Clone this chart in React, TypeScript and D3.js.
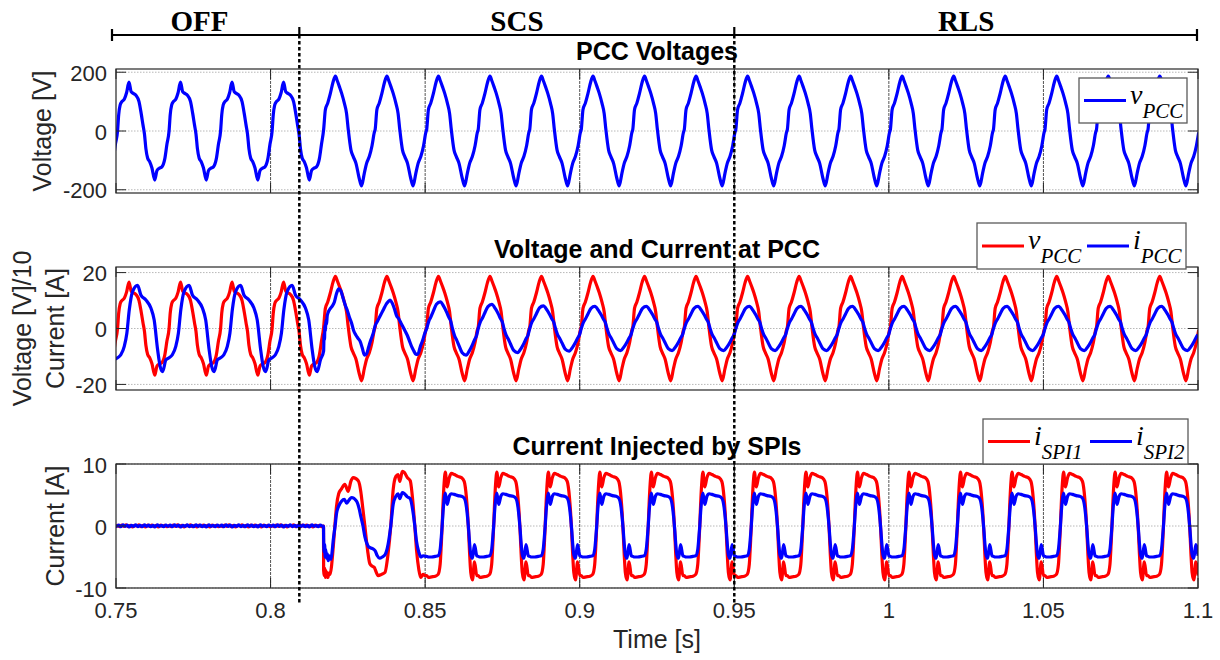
import React, { useEffect, useRef } from "react";
import * as d3 from "d3";

type Pt = [number, number];

// time axis
const xTicks = [0.75, 0.8, 0.85, 0.9, 0.95, 1.0, 1.05, 1.1];
const xTickLabels = ["0.75", "0.8", "0.85", "0.9", "0.95", "1", "1.05", "1.1"];

// grid frequency and first rising zero crossing of v_PCC
const F0 = 60;
const T0 = 0.7505;
const FIRST_CYCLE = -1;

// operating modes shown in the header
const modeNames = ["OFF", "SCS", "RLS"];
const modeLabelT = [0.777, 0.8797, 1.025];
const modeSwitchT = [0.8093, 0.95];

// one cycle of each waveform: [phase deg from v zero crossing, value]
const vOffCycle: Pt[] = [[0, 0], [8, 55], [18, 88], [30, 100], [47, 108], [63, 130], [80, 166], [95, 134], [110, 128], [128, 122], [150, 100], [165, 60], [178, 20], [188, -10], [198, -60], [210, -92], [225, -105], [240, -125], [260, -167], [275, -135], [292, -127], [310, -122], [330, -95], [345, -45]];
const vOnCycle: Pt[] = [[0, 5], [12, 72], [28, 94], [47, 128], [65, 165], [82, 187], [96, 170], [110, 151], [126, 128], [145, 94], [160, 60], [172, 5], [191, -65], [207, -87], [226, -110], [248, -160], [265, -187], [284, -144], [300, -110], [319, -87], [338, -50], [354, -5]];

const iOffCycle: Pt[] = [[0, -10.5], [23, -9.4], [47, -6.4], [65, -1.7], [82, 6.7], [105, 13.2], [140, 15.4], [163, 12], [198, 10.2], [233, 7.3], [256, 3], [280, -7.6], [298, -13.6], [315, -15.4], [338, -11.2]];
const iC4Cycle: Pt[] = [[0, -8], [3, -2], [6, -4], [9, 1], [12, -1], [16, 3], [20, 1.5], [25, 4.5], [30, 5.5], [45, 7], [60, 8], [75, 9.5], [90, 12.5], [105, 14.2], [120, 13.5], [135, 11], [150, 8.5], [165, 6.5], [180, 4], [195, 2], [210, -0.8], [225, -2.3], [240, -3.5], [255, -4.6], [270, -7], [285, -9.5], [300, -9], [315, -6.5], [330, -4], [345, -2]];
const iC5Cycle: Pt[] = [[0, 1], [15, 2.5], [30, 4], [45, 5.5], [60, 7], [75, 8.5], [90, 9.5], [105, 10.2], [120, 9], [135, 7], [150, 4.5], [165, 3.5], [180, 2], [195, 0.5], [210, -1], [225, -2.5], [240, -4.5], [255, -6.5], [270, -8], [285, -9.3], [300, -9], [315, -6.5], [330, -4.5], [345, -2]];
const iOnCycle: Pt[] = [[0, 0], [15, 2.2], [28, 3.3], [45, 5], [68, 7.2], [95, 7.9], [120, 6.5], [140, 4.8], [155, 3.3], [168, 2.2], [180, 0], [195, -2.2], [208, -3.3], [225, -5], [248, -7.2], [275, -7.9], [300, -6.5], [320, -4.8], [335, -3.3], [348, -2.2]];
const iOnPeaks = [9.5, 8.6, 8.1, 7.9, 7.9, 7.9, 7.9, 7.9, 7.9, 7.9, 7.9, 7.9, 7.9, 7.9, 7.9];

const spi1Zero: Pt[] = [[0, 0.1], [15, -0.1], [30, 0.15], [45, -0.05], [60, 0.2], [75, -0.1], [90, 0.1], [105, -0.15], [120, 0.1], [135, 0], [150, 0.2], [165, -0.1], [180, 0.1], [195, -0.15], [210, 0.15], [225, -0.05], [240, 0.15], [255, -0.1], [270, 0.1], [285, -0.15], [300, 0.15], [315, -0.05], [330, 0.1], [345, -0.1], [359, 0]];
const spi2Zero: Pt[] = [[0, 0], [8, 0.15], [22, -0.1], [38, 0.2], [52, -0.05], [68, 0.15], [82, -0.15], [98, 0.1], [112, -0.05], [128, 0.2], [142, -0.1], [158, 0.1], [172, -0.1], [188, 0.2], [202, -0.05], [218, 0.15], [232, -0.1], [248, 0.1], [262, -0.15], [278, 0.2], [292, -0.05], [308, 0.1], [322, -0.1], [338, 0.15], [352, -0.05], [359, 0]];
const spi1C4: Pt[] = [[0, -7.2], [4, -8], [8, -6.8], [12, -8.3], [16, -7.2], [20, -8.2], [25, -7.5], [30, -8.3], [37, -7.6], [45, -7.8], [55, -6.5], [67, -3.4], [80, 0.5], [90, 3.2], [105, 5.2], [125, 6.0], [148, 6.7], [172, 5.6], [190, 7.2], [207, 7.8], [242, 7.3], [260, 5.5], [272, 3.2], [288, 0], [307, -3.9], [323, -6.1], [340, -6.5], [355, -6.7]];
const spi1C5: Pt[] = [[0, -7.0], [21, -8.0], [44, -7.8], [68, -7.5], [90, -4.5], [109, 0], [126, 5.9], [145, 8.0], [160, 8.3], [172, 7.2], [190, 8.8], [205, 8.6], [225, 7.8], [245, 7.3], [266, 3.2], [277, 0], [289, -3.9], [305, -7.0], [318, -8.3], [335, -7.8], [350, -8.0]];
const spi1On: Pt[] = [[0, -8.0], [12, -8.3], [35, -8.2], [60, -8.1], [80, -7.8], [94, -6.2], [102, -3.0], [108, 0], [114, 3.5], [122, 7.0], [130, 8.7], [143, 6.3], [158, 7.8], [173, 8.5], [193, 8.3], [218, 8.0], [243, 7.8], [262, 7.2], [278, 4.5], [286, 2.0], [293, -1.0], [300, -4.5], [308, -7.5], [320, -8.7], [334, -5.8], [350, -8.0]];
const spi2C4: Pt[] = [[0, -2], [3, -4.2], [7, -3], [11, -5], [15, -3.8], [20, -5.2], [26, -4.5], [32, -5.6], [40, -4.8], [51, -5.4], [60, -4], [67, -2.3], [80, 0], [90, 2], [105, 3.2], [125, 4.0], [145, 4.3], [160, 3.7], [178, 4.2], [195, 4.6], [230, 4.0], [248, 2.8], [260, 1.5], [275, 0], [288, -1.7], [302, -2.8], [316, -3.4], [346, -3.7]];
const spi2C5: Pt[] = [[0, -4.0], [15, -4.8], [30, -5.2], [50, -5.0], [70, -4.6], [90, -3.0], [109, 0], [126, 3.5], [145, 4.8], [160, 5.2], [172, 4.4], [190, 5.4], [205, 5.2], [225, 4.7], [245, 4.4], [266, 2.0], [277, 0], [289, -2.5], [305, -4.2], [318, -5.0], [335, -4.8], [350, -4.9]];
const spi2On: Pt[] = [[0, -4.9], [12, -5.0], [35, -5.0], [60, -4.9], [80, -4.8], [94, -3.8], [102, -1.8], [108, 0], [114, 2.2], [122, 4.3], [130, 5.3], [143, 3.5], [158, 4.8], [173, 5.2], [193, 5.1], [218, 4.9], [243, 4.8], [262, 4.5], [278, 3.0], [286, 1.3], [293, -0.6], [300, -2.8], [308, -4.6], [320, -5.2], [334, -3.0], [350, -4.8]];

// which cycle shape is used for cycles -1 .. 20
const vPlan = ["off", "off", "off", "off", "off", "on", "on", "on", "on", "on", "on", "on", "on", "on", "on", "on", "on", "on", "on", "on", "on", "on"];
const iPlan = ["off", "off", "off", "off", "off", "c4", "c5", "on", "on", "on", "on", "on", "on", "on", "on", "on", "on", "on", "on", "on", "on", "on"];
const spiPlan = ["zero", "zero", "zero", "zero", "zero", "c4", "c5", "on", "on", "on", "on", "on", "on", "on", "on", "on", "on", "on", "on", "on", "on", "on"];

const RED = "#ff0000";
const BLUE = "#0000ff";
const AX = "#262626";
const SANS = "'Liberation Sans', Arial, Helvetica, sans-serif";
const SERIF = "'Liberation Serif', 'Times New Roman', Times, serif";

function buildSeries(plan: string[], shapes: Record<string, Pt[]>, onPeaks?: number[], nominal = 1) {
    const pts: { t: number; v: number }[] = [];
    let onIdx = 0;
    plan.forEach((key, i) => {
        const k = i + FIRST_CYCLE;
        let s = 1;
        if (key === "on" && onPeaks) {
            s = onPeaks[onIdx] / nominal;
            onIdx++;
        }
        shapes[key].forEach(([deg, val]) => {
            pts.push({ t: T0 + (k + deg / 360) / F0, v: val * s });
        });
    });
    return pts;
}

export default function App() {
    const svgRef = useRef<SVGSVGElement>(null);

    useEffect(() => {
        const svg = d3.select(svgRef.current);
        svg.selectAll("*").remove();

        const x = d3.scaleLinear().domain([0.75, 1.1]).range([116, 1198]);
        const X0 = x(0.75), X1 = x(1.1);

        const vPcc = buildSeries(vPlan, { off: vOffCycle, on: vOnCycle });
        const iPcc = buildSeries(iPlan, { off: iOffCycle, c4: iC4Cycle, c5: iC5Cycle, on: iOnCycle }, iOnPeaks, 7.9);
        const spi1 = buildSeries(spiPlan, { zero: spi1Zero, c4: spi1C4, c5: spi1C5, on: spi1On });
        const spi2 = buildSeries(spiPlan, { zero: spi2Zero, c4: spi2C4, c5: spi2C5, on: spi2On });

        const panels = [
            {
                id: "p1", y0: 69, y1: 193, dom: 211, yTicks: [-200, 0, 200],
                title: "PCC Voltages", titleY: 60,
                yLabels: [{ text: "Voltage [V]", bx: 51 }],
                series: [{ data: vPcc, k: 1, color: BLUE }],
                legend: { x: 1079, y: 78, w: 108, h: 45, items: [{ color: BLUE, main: "v", sub: "PCC", x: 1084 }] },
            },
            {
                id: "p2", y0: 267, y1: 390, dom: 22, yTicks: [-20, 0, 20],
                title: "Voltage and Current at PCC", titleY: 258,
                yLabels: [{ text: "Voltage [V]/10", bx: 31 }, { text: "Current [A]", bx: 64 }],
                series: [{ data: vPcc, k: 0.1, color: RED }, { data: iPcc, k: 1, color: BLUE }],
                legend: { x: 977, y: 223, w: 209, h: 46, items: [{ color: RED, main: "v", sub: "PCC", x: 982 }, { color: BLUE, main: "i", sub: "PCC", x: 1087 }] },
            },
            {
                id: "p3", y0: 464, y1: 588, dom: 10, yTicks: [-10, 0, 10],
                title: "Current Injected by SPIs", titleY: 455,
                yLabels: [{ text: "Current [A]", bx: 64 }],
                series: [{ data: spi1, k: 1, color: RED }, { data: spi2, k: 1, color: BLUE }],
                legend: { x: 983, y: 419, w: 205, h: 45, items: [{ color: RED, main: "i", sub: "SPI1", x: 988 }, { color: BLUE, main: "i", sub: "SPI2", x: 1090 }] },
            },
        ];

        const defs = svg.append("defs");

        panels.forEach((p, pi) => {
            const y = d3.scaleLinear().domain([-p.dom, p.dom]).range([p.y1, p.y0]);
            const g = svg.append("g");

            defs.append("clipPath").attr("id", `clip-${p.id}`)
                .append("rect").attr("x", X0).attr("y", p.y0).attr("width", X1 - X0).attr("height", p.y1 - p.y0);

            // grid
            g.selectAll(".hgrid").data(p.yTicks).enter().append("line")
                .attr("x1", X0).attr("x2", X1)
                .attr("y1", d => y(d)).attr("y2", d => y(d))
                .attr("stroke", "#b8b8b8").attr("stroke-width", 1).attr("stroke-dasharray", "1.5 1.5");
            g.selectAll(".vgrid").data(xTicks.slice(1, -1)).enter().append("line")
                .attr("x1", d => x(d)).attr("x2", d => x(d))
                .attr("y1", p.y0).attr("y2", p.y1)
                .attr("stroke", "#555").attr("stroke-width", 1).attr("stroke-dasharray", "3 1");

            // traces
            const plot = g.append("g").attr("clip-path", `url(#clip-${p.id})`);
            p.series.forEach(s => {
                const line = d3.line<{ t: number; v: number }>()
                    .x(d => x(d.t)).y(d => y(d.v * s.k))
                    .curve(d3.curveMonotoneX);
                plot.append("path").attr("d", line(s.data))
                    .attr("fill", "none").attr("stroke", s.color)
                    .attr("stroke-width", 3.2).attr("stroke-linejoin", "round");
            });

            // box and ticks
            g.append("rect").attr("x", X0).attr("y", p.y0).attr("width", X1 - X0).attr("height", p.y1 - p.y0)
                .attr("fill", "none").attr("stroke", AX).attr("stroke-width", 1.2);
            const TL = 10;
            p.yTicks.forEach(v => {
                g.append("line").attr("x1", X0).attr("x2", X0 + TL).attr("y1", y(v)).attr("y2", y(v)).attr("stroke", AX);
                g.append("line").attr("x1", X1 - TL).attr("x2", X1).attr("y1", y(v)).attr("y2", y(v)).attr("stroke", AX);
                g.append("text").attr("x", 107).attr("y", y(v) + 1).attr("text-anchor", "end")
                    .attr("dominant-baseline", "central")
                    .attr("font-family", SANS).attr("font-size", 22).attr("fill", AX)
                    .text(String(v));
            });
            xTicks.forEach(t => {
                g.append("line").attr("x1", x(t)).attr("x2", x(t)).attr("y1", p.y1).attr("y2", p.y1 - TL).attr("stroke", AX);
                g.append("line").attr("x1", x(t)).attr("x2", x(t)).attr("y1", p.y0).attr("y2", p.y0 + TL).attr("stroke", AX);
            });

            // title
            g.append("text").attr("x", (X0 + X1) / 2).attr("y", p.titleY).attr("text-anchor", "middle")
                .attr("font-family", SANS).attr("font-weight", "bold").attr("font-size", 25).attr("fill", "#000")
                .text(p.title);

            // y labels
            const cy = (p.y0 + p.y1) / 2;
            p.yLabels.forEach(l => {
                g.append("text").attr("transform", `translate(${l.bx},${cy}) rotate(-90)`)
                    .attr("text-anchor", "middle")
                    .attr("font-family", SANS).attr("font-size", 25).attr("fill", AX)
                    .text(l.text);
            });

            // legend
            const lg = g.append("g");
            const L = p.legend;
            lg.append("rect").attr("x", L.x).attr("y", L.y).attr("width", L.w).attr("height", L.h)
                .attr("fill", "#fff").attr("stroke", "#5a5a5a").attr("stroke-width", 1.3);
            const ly = L.y + L.h / 2;
            L.items.forEach(it => {
                lg.append("line").attr("x1", it.x).attr("x2", it.x + 42).attr("y1", ly).attr("y2", ly)
                    .attr("stroke", it.color).attr("stroke-width", 3);
                const tx = lg.append("text").attr("x", it.x + 46).attr("y", ly + 3)
                    .attr("font-family", SERIF).attr("font-style", "italic").attr("font-size", 28).attr("fill", "#000");
                tx.append("tspan").text(it.main);
                tx.append("tspan").attr("dy", 14).attr("font-size", 21).text(it.sub);
            });

            // x tick labels on the last axes
            if (pi === panels.length - 1) {
                xTicks.forEach((t, i) => {
                    g.append("text").attr("x", x(t)).attr("y", 618).attr("text-anchor", "middle")
                        .attr("font-family", SANS).attr("font-size", 22).attr("fill", AX)
                        .text(xTickLabels[i]);
                });
                g.append("text").attr("x", (X0 + X1) / 2).attr("y", 648).attr("text-anchor", "middle")
                    .attr("font-family", SANS).attr("font-size", 25).attr("fill", AX)
                    .text("Time [s]");
            }
        });

        // mode header
        const hdr = svg.append("g");
        const HY = 35;
        hdr.append("line").attr("x1", 112).attr("x2", 1197).attr("y1", HY).attr("y2", HY)
            .attr("stroke", "#000").attr("stroke-width", 2.2);
        [112, 1197].forEach(px => {
            hdr.append("line").attr("x1", px).attr("x2", px).attr("y1", HY - 6).attr("y2", HY + 6)
                .attr("stroke", "#000").attr("stroke-width", 2.2);
        });
        modeSwitchT.forEach(t => {
            hdr.append("line").attr("x1", x(t)).attr("x2", x(t)).attr("y1", HY - 8).attr("y2", HY)
                .attr("stroke", "#000").attr("stroke-width", 2.2);
        });
        modeNames.forEach((m, i) => {
            hdr.append("text").attr("x", x(modeLabelT[i])).attr("y", 31).attr("text-anchor", "middle")
                .attr("font-family", SERIF).attr("font-weight", "bold").attr("font-size", 29).attr("fill", "#000")
                .text(m);
        });

        // dashed separators across all axes
        modeSwitchT.forEach(t => {
            svg.append("line").attr("x1", x(t)).attr("x2", x(t)).attr("y1", HY).attr("y2", 603)
                .attr("stroke", "#000").attr("stroke-width", 2.5).attr("stroke-dasharray", "3.5 2.5");
        });
    }, []);

    return (
        <svg ref={svgRef} width={1220} height={660}
            style={{ position: "absolute", left: 0, top: 0, background: "#fff" }} />
    );
}
